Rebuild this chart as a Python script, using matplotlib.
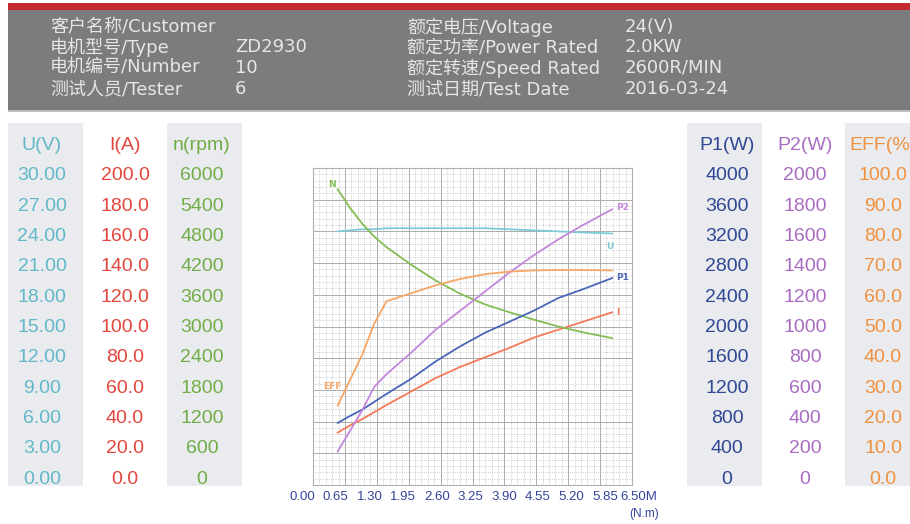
import matplotlib
matplotlib.use('Agg')
import matplotlib.pyplot as plt
from matplotlib.patches import Rectangle
from matplotlib.ticker import MultipleLocator
import numpy as np

# header info
info_left_keys = ['客户名称/Customer', '电机型号/Type', '电机编号/Number', '测试人员/Tester']
info_left_vals = ['', 'ZD2930', '10', '6']
info_right_keys = ['额定电压/Voltage', '额定功率/Power Rated', '额定转速/Speed Rated', '测试日期/Test Date']
info_right_vals = ['24(V)', '2.0KW', '2600R/MIN', '2016-03-24']

# measured curves vs torque (N.m)
torque = [0.50, 0.75, 1.00, 1.25, 1.50, 2.00, 2.50, 3.00, 3.50, 4.00, 4.50, 5.00, 5.50, 6.10]
speed = [5600, 5250, 4950, 4700, 4500, 4170, 3870, 3620, 3420, 3270, 3130, 3000, 2890, 2780]
voltage = [24.0, 24.1, 24.2, 24.2, 24.3, 24.3, 24.3, 24.3, 24.3, 24.2, 24.1, 24.0, 23.9, 23.8]
current = [33, 37.5, 41.5, 46, 50.5, 59, 67.5, 74.5, 80.5, 86.5, 93, 98, 103, 109]
p1 = [782, 870, 950, 1050, 1150, 1340, 1560, 1750, 1920, 2060, 2200, 2360, 2470, 2612]
p2 = [210, 340, 470, 620, 700, 835, 980, 1100, 1220, 1340, 1450, 1550, 1640, 1740]
eff = [25, 33, 41, 51, 58, 60.5, 63, 65, 66.5, 67.3, 67.7, 67.8, 67.8, 67.7]

# side scales
scale_names = ['U(V)', 'I(A)', 'n(rpm)', 'P1(W)', 'P2(W)', 'EFF(%)']
scale_max = [30, 200, 6000, 4000, 2000, 100]
scale_fmt = ['{:.2f}', '{:.1f}', '{:.0f}', '{:.0f}', '{:.0f}', '{:.1f}']
torque_ticks = np.arange(0, 6.51, 0.65)

W, H = 910, 524
fig = plt.figure(figsize=(W / 100, H / 100), dpi=100)
fig.patch.set_facecolor('white')


def fx(x):
    return x / W


def fy(y):
    return 1 - y / H


def rect(x0, y0, x1, y1, color):
    fig.add_artist(Rectangle((fx(x0), fy(y1)), fx(x1 - x0), (y1 - y0) / H,
                             transform=fig.transFigure, color=color, lw=0, zorder=0))


# header band
rect(8, 3, 910, 10, '#c3282e')
rect(8, 10, 910, 110, '#7c7c7e')
rect(8, 110, 910, 112, '#bdbdbd')
hfont = dict(family=['DejaVu Sans', 'Noto Sans CJK SC'], fontsize=13, color='#e6e6e6', va='center')
rows_y = [27, 47, 68, 89]
for k, v, y in zip(info_left_keys, info_left_vals, rows_y):
    fig.text(fx(50), fy(y), k, **hfont)
    fig.text(fx(235), fy(y), v, **hfont)
for k, v, y in zip(info_right_keys, info_right_vals, rows_y):
    fig.text(fx(407), fy(y), k, **hfont)
    fig.text(fx(625), fy(y), v, **hfont)

# side tables
col_colors = ['#62b8c8', '#e2463c', '#72ad47', '#2f4795', '#a96cc2', '#f0913f']
col_x = [42, 125, 202, 727, 805, 883]
col_bg = [(8, 83), None, (167, 242), (687, 762), None, (845, 910)]
tfont = dict(family=['Liberation Sans', 'DejaVu Sans'], fontsize=14, ha='center', va='center')
for name, mx, fmt, c, x, bg in zip(scale_names, scale_max, scale_fmt, col_colors, col_x, col_bg):
    if bg:
        rect(bg[0], 123, bg[1], 486, '#e9ebee')
    fig.text(fx(x), fy(146), name, color=c, **tfont)
    vals = np.linspace(mx, 0, 11)
    for i, v in enumerate(vals):
        fig.text(fx(x), fy(176 + i * 30.3), fmt.format(v), color=c, **tfont)

# main plot
ax = fig.add_axes([fx(313), fy(485), fx(632 - 313), 317 / H])
ax.set_xlim(0, 6.5)
ax.set_ylim(0, 1)
ax.xaxis.set_major_locator(MultipleLocator(0.65))
ax.xaxis.set_minor_locator(MultipleLocator(0.13))
ax.yaxis.set_major_locator(MultipleLocator(0.1))
ax.yaxis.set_minor_locator(MultipleLocator(0.02))
ax.grid(which='major', color='#ababab', lw=0.7)
ax.grid(which='minor', color='#bcbcbc', lw=0.6, ls=':')
ax.tick_params(which='both', length=0, labelbottom=False, labelleft=False)
for s in ax.spines.values():
    s.set_color('#b0b0b0')

# tick labels (spread slightly wider than the grid, as on the sheet)
axl = fig.add_axes([fx(302), fy(485), fx(639 - 302), 317 / H])
axl.set_xlim(0, 6.5)
axl.set_xticks(torque_ticks)
axl.set_xticklabels(['{:.2f}'.format(t) for t in torque_ticks[:-1]] + ['6.50M'])
axl.tick_params(length=0, pad=4, colors='#34449a', labelsize=9.5)
for lbl in axl.get_xticklabels():
    lbl.set_family(['Liberation Sans Narrow', 'Liberation Sans'])
axl.set_yticks([])
axl.patch.set_visible(False)
for s in axl.spines.values():
    s.set_visible(False)
fig.text(fx(644), fy(514), '(N.m)', color='#34449a', fontsize=8.5,
         family=['Liberation Sans Narrow', 'Liberation Sans'], ha='center', va='center')

curves = [
    (voltage, 30, '#7ccbd6', 'U', (-2, -9), 'center', -1),
    (current, 200, '#f47a5a', 'I', (3, 0), 'left', -1),
    (speed, 6000, '#84bd55', 'N', (-4, 3), 'center', 0),
    (p1, 4000, '#4a67b8', 'P1', (3, 0), 'left', -1),
    (p2, 2000, '#c487dc', 'P2', (3, 1), 'left', -1),
    (eff, 100, '#f6a665', 'EFF', (-4, 14), 'center', 0),
]
for vals, mx, c, lab, off, ha, idx in curves:
    tw = ax.twinx()
    tw.set_ylim(0, mx)
    tw.axis('off')
    tw.plot(torque, vals, color=c, lw=1.3, solid_capstyle='round')
    tw.annotate(lab, xy=(torque[idx], vals[idx]), xytext=off, textcoords='offset points',
                color=c, fontsize=6.5, fontweight='bold', ha=ha, va='center')

fig.savefig('out.png', dpi=100)
